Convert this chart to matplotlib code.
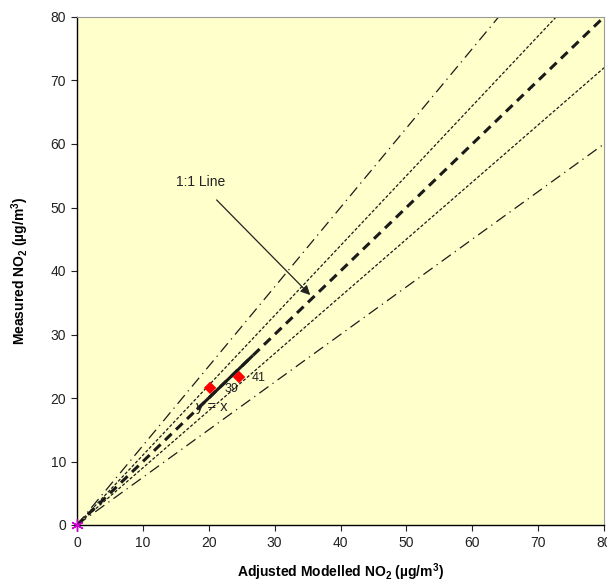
import matplotlib
matplotlib.use("Agg")
import matplotlib.pyplot as plt
import numpy as np

plt.rcParams['font.family'] = ['Liberation Sans', 'DejaVu Sans']
plt.rcParams['mathtext.fontset'] = 'custom'
plt.rcParams['mathtext.rm'] = 'Liberation Sans'
plt.rcParams['mathtext.bf'] = 'Liberation Sans:bold'

# Data
modelled = [20.2, 24.6]
measured = [21.6, 23.3]
site_labels = ["39", "41"]
ratio_lines = [1.0, 1.1, 0.9, 1.25, 0.75]
trend_x = [18.2, 26.7]
axis_max = 80
ticks = list(range(0, 81, 10))

fig = plt.figure(figsize=(6.07, 5.83), dpi=100)
ax = fig.add_axes([77/607, 1-525/583, (604-77)/607, (525-17)/583])
ax.set_facecolor('#FFFFCC')

xs = np.array([0, axis_max])
styles = {
    1.0: dict(lw=2.2, ls=(0, (3, 2)), color='#1a1a1a'),
    1.1: dict(lw=0.9, ls=(0, (2.5, 1.5)), color='#1a1a1a'),
    0.9: dict(lw=0.9, ls=(0, (2.5, 1.5)), color='#1a1a1a'),
    1.25: dict(lw=0.9, ls=(0, (9, 4, 1, 4)), color='#1a1a1a'),
    0.75: dict(lw=0.9, ls=(0, (9, 4, 1, 4)), color='#1a1a1a'),
}
for r in ratio_lines:
    ax.plot(xs, r * xs, **styles[r], zorder=2)

ax.plot(trend_x, trend_x, color='#1a1a1a', lw=2.2, solid_capstyle='butt', zorder=3)
ax.scatter(modelled, measured, marker='D', s=40, color='#ff0000', zorder=4, edgecolors='none')
offsets = [(3.2, -0.2), (3.0, -0.1)]
for x, y, lab, (dx, dy) in zip(modelled, measured, site_labels, offsets):
    ax.text(x + dx, y + dy, lab, fontsize=9, va='center', ha='center', color='#222222')
ax.text(20.5, 18.6, "y = x", fontsize=10.5, va='center', ha='center', color='#222222')

ax.plot([0], [0], marker=(6, 2, 0), color='#cc00cc', ms=9, mew=1.0, clip_on=False, zorder=5)

ax.annotate("", xy=(35.7, 35.9), xytext=(20.9, 51.5),
            arrowprops=dict(arrowstyle='-|>', color='#222222', lw=0.9, mutation_scale=14))
ax.text(18.8, 54.0, "1:1 Line", fontsize=10, ha='center', va='center', color='#222222')

ax.set_xlim(0, axis_max)
ax.set_ylim(0, axis_max)
ax.set_xticks(ticks)
ax.set_yticks(ticks)
ax.tick_params(direction='out', length=4, width=0.8, labelsize=10, colors='#222222', pad=4)
for s in ['top', 'right']:
    ax.spines[s].set_color('#999999')
for s in ['left', 'bottom']:
    ax.spines[s].set_color('#000000')
    ax.spines[s].set_linewidth(1.0)

ax.set_xlabel(r"Adjusted Modelled NO$_\mathbf{2}$ (µg/m$^\mathbf{3}$)", fontsize=10, fontweight='bold', labelpad=8)
ax.set_ylabel(r"Measured NO$_\mathbf{2}$ (µg/m$^\mathbf{3}$)", fontsize=10, fontweight='bold', labelpad=14)

fig.savefig("out.png", dpi=100)
